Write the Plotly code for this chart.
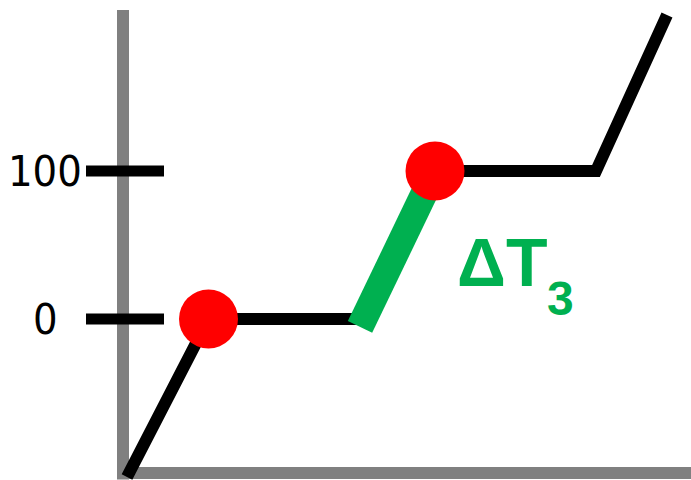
import plotly.graph_objects as go

# data coordinates: t = time (arbitrary units), T = temperature
# heating curve path
path_t = [2, 42.75, 120, 156, 236.5, 272]
path_T = [-106.8, 0, 0, 100, 100, 205.4]

# highlighted segment (delta T3)
seg_t = [118.5, 156]
seg_T = [-5.4, 100]

# phase-change points
dot_t = [42.75, 156]
dot_T = [0, 100]

# temperature ticks
tick_vals = [0, 100]
tick_labels = ["0", "100"]
tick_label_t = [-38.75, -39.0]
tick_t = [-18.5, 20.5]

# drawn axes
yaxis_t = [0, 0]
yaxis_T = [208.8, -108.5]
xaxis_t = [-3, 290]
xaxis_T = [-104.05, -104.05]

GRAY = "#808080"
GREEN = "#00B050"
RED = "#FF0000"

fig = go.Figure()

fig.add_trace(go.Scatter(x=yaxis_t, y=yaxis_T, mode="lines",
                         line=dict(color=GRAY, width=12)))
fig.add_trace(go.Scatter(x=xaxis_t, y=xaxis_T, mode="lines",
                         line=dict(color=GRAY, width=12)))

for v in tick_vals:
    fig.add_trace(go.Scatter(x=tick_t, y=[v, v], mode="lines",
                             line=dict(color="black", width=11)))

fig.add_trace(go.Scatter(x=path_t, y=path_T, mode="lines",
                         line=dict(color="black", width=12)))
fig.add_trace(go.Scatter(x=seg_t, y=seg_T, mode="lines",
                         line=dict(color=GREEN, width=27)))
fig.add_trace(go.Scatter(x=dot_t, y=dot_T, mode="markers",
                         marker=dict(color=RED, size=59, line=dict(width=0))))

label_font = dict(family="Liberation Sans Narrow, DejaVu Sans Condensed, sans-serif",
                  size=43, color="black")
for lt, v, lab in zip(tick_label_t, tick_vals, tick_labels):
    fig.add_annotation(x=lt, y=v, text=lab, showarrow=False,
                       xanchor="center", yanchor="middle", font=label_font)

# delta T label with subscript
fig.add_annotation(x=189.5, y=38.5, text="<b>ΔT</b>", showarrow=False,
                   xanchor="center", yanchor="middle",
                   font=dict(family="Liberation Sans, Arial, sans-serif", size=68, color=GREEN))
fig.add_annotation(x=218.5, y=14, text="<b>3</b>", showarrow=False,
                   xanchor="center", yanchor="middle",
                   font=dict(family="Liberation Sans, Arial, sans-serif", size=48, color=GREEN))

fig.update_xaxes(visible=False, range=[-61.5, 284])
fig.update_yaxes(visible=False, range=[-108.8, 215.5])
fig.update_layout(
    width=691, height=480,
    margin=dict(l=0, r=0, t=0, b=0),
    paper_bgcolor="white", plot_bgcolor="white",
    showlegend=False, hovermode=False,
)

fig.write_html("out.html", config={"displayModeBar": False},
               post_script="document.body.style.margin='0px';")
